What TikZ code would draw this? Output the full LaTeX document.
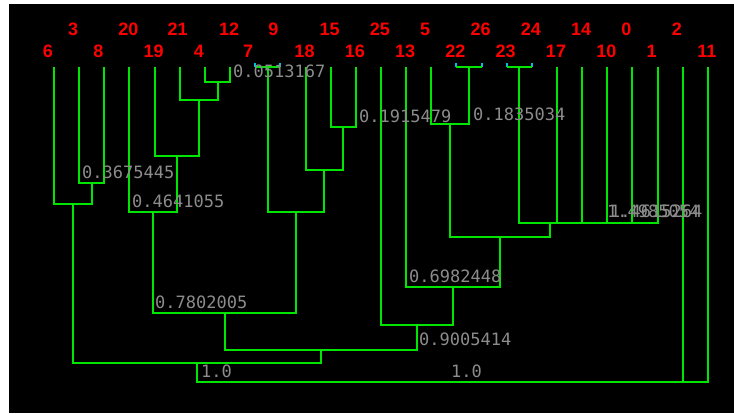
\documentclass[tikz,border=0pt]{standalone}
\usepackage{fontspec}
\usepackage{xcolor}
\usepackage{tikz}
\newfontfamily\leaffont{Liberation Sans}
\newfontfamily\distfont{DejaVu Sans Mono}
\definecolor{canvasColor}{RGB}{0, 0, 0}
\definecolor{branchColor}{RGB}{0, 230, 0}
\definecolor{leafColor}{RGB}{255, 0, 0}
\definecolor{distColor}{RGB}{140, 140, 140}
\definecolor{zeroColor}{RGB}{0, 190, 230}

\begin{document}
\begin{tikzpicture}[
        x=1pt, y=-1pt,
        leaflabel/.style={anchor=base, text=leafColor, inner sep=0pt, font=\fontsize{18}{18}\selectfont\leaffont\bfseries},
        dist/.style={anchor=base west, text=distColor, inner sep=0pt, font=\fontsize{17}{17}\selectfont\distfont},
        branch/.style={draw=branchColor, line width=2pt},
        zerotick/.style={draw=zeroColor, line width=2pt}
    ]
    \useasboundingbox (0,0) rectangle (734,413);
    \fill[white] (0,0) rectangle (734,413);
    \fill[canvasColor] (9,4) rectangle (734,413);

    % Leaves
    \foreach \lbl/\row/\dx [count=\i from 0] in {6/1/-6, 3/0/-6, 8/1/-6, 20/0/-1, 19/1/-1, 21/0/-2, 4/1/-6, 12/0/-1, 7/1/-7, 9/0/-7, 18/1/-1, 15/0/-1, 16/1/-1, 25/0/-1, 13/1/-1, 5/0/-6, 22/1/-1, 26/0/-1, 23/1/-1, 24/0/-1, 17/1/-1, 14/0/-1, 10/1/-1, 0/0/-6, 1/1/-6, 2/0/-6, 11/1/-1}{
        \coordinate (l\lbl) at ({54+25.15*\i},67);
        \node[leaflabel] (t\lbl) at ({54+25.15*\i+\dx},{35+22*\row}) {\lbl};
    }

    % Merge points
    \coordinate (mG) at (267.8,67);
    \coordinate (mP) at (469,67);
    \coordinate (mQ) at (519.3,67);
    \coordinate (mA) at (217.5,82);
    \coordinate (mB) at (198.6,100);
    \coordinate (mC) at (176.6,156);
    \coordinate (mF) at (153,212);
    \coordinate (mD) at (91.7,183);
    \coordinate (mE) at (72.9,204);
    \coordinate (mH) at (343.2,127);
    \coordinate (mI) at (324.4,170);
    \coordinate (mJ) at (296.1,212);
    \coordinate (mK) at (224.6,313);
    \coordinate (mO) at (450.1,124);
    \coordinate (mR1) at (645,223);
    \coordinate (mR2) at (626.2,223);
    \coordinate (mR3) at (604.2,223);
    \coordinate (mR4) at (580.6,223);
    \coordinate (mR5) at (550,223);
    \coordinate (mN) at (500,237);
    \coordinate (mM) at (453,287);
    \coordinate (mL) at (417,325);
    \coordinate (mS) at (320.8,350);
    \coordinate (mT) at (196.9,363);
    \coordinate (mU1) at (439.8,382);
    \coordinate (mU2) at (573.9,382);

    % Zero-height brackets
    \foreach \lf in {7, 9, 22, 26, 23, 24}
        \draw[zerotick] (l\lf) -- ++(0,-4);

    % Branches
    \draw[branch] (l7) |- (mG) -| (l9);
    \draw[branch] (l22) |- (mP) -| (l26);
    \draw[branch] (l23) |- (mQ) -| (l24);
    \draw[branch] (l4) |- (mA) -| (l12);
    \draw[branch] (l21) |- (mB) -| (mA);
    \draw[branch] (l19) |- (mC) -| (mB);
    \draw[branch] (l20) |- (mF) -| (mC);
    \draw[branch] (l3) |- (mD) -| (l8);
    \draw[branch] (l6) |- (mE) -| (mD);
    \draw[branch] (l15) |- (mH) -| (l16);
    \draw[branch] (l18) |- (mI) -| (mH);
    \draw[branch] (mG) |- (mJ) -| (mI);
    \draw[branch] (mF) |- (mK) -| (mJ);
    \draw[branch] (l5) |- (mO) -| (mP);
    \draw[branch] (l0) |- (mR1) -| (l1);
    \draw[branch] (l10) |- (mR2) -| (mR1);
    \draw[branch] (l14) |- (mR3) -| (mR2);
    \draw[branch] (l17) |- (mR4) -| (mR3);
    \draw[branch] (mQ) |- (mR5) -| (mR4);
    \draw[branch] (mO) |- (mN) -| (mR5);
    \draw[branch] (l13) |- (mM) -| (mN);
    \draw[branch] (l25) |- (mL) -| (mM);
    \draw[branch] (mK) |- (mS) -| (mL);
    \draw[branch] (mE) |- (mT) -| (mS);
    \draw[branch] (mT) |- (mU1) -| (l2);
    \draw[branch] (mU1) |- (mU2) -| (l11);

    % Distances
    \node[dist] (dA) at (233,77) {0.0513167};
    \node[dist] (dD) at (82,178) {0.3675445};
    \node[dist] (dF) at (132,207) {0.4641055};
    \node[dist] (dH) at (359,122) {0.1915479};
    \node[dist] (dO) at (473,120) {0.1835034};
    \node[dist] (dR2) at (607,217) {1.4985054};
    \node[dist] (dR1) at (610,217) {1.4615264};
    \node[dist] (dM) at (409,282) {0.6982448};
    \node[dist] (dK) at (155,308) {0.7802005};
    \node[dist] (dS) at (419,345) {0.9005414};
    \node[dist] (dU1) at (201,377) {1.0};
    \node[dist] (dU2) at (451,377) {1.0};
\end{tikzpicture}
\end{document}
